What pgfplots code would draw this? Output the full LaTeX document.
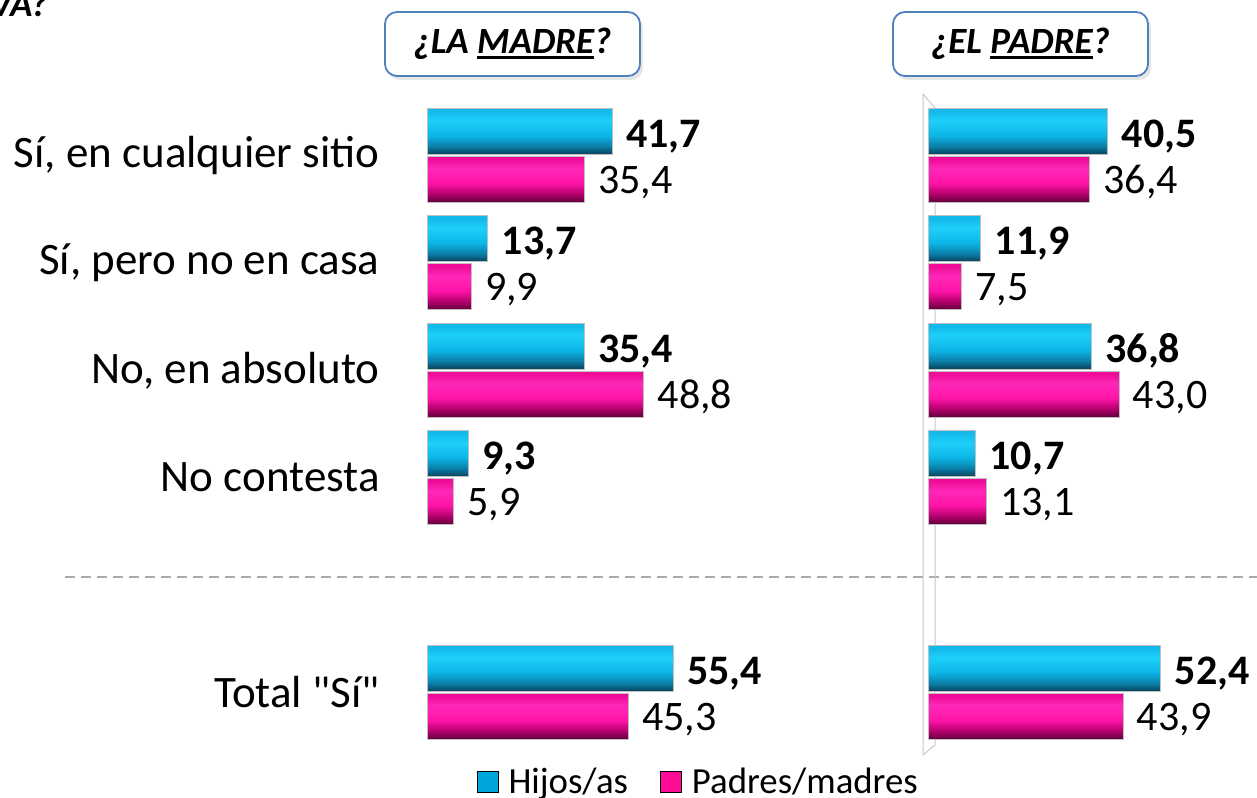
\documentclass[border=0pt]{standalone}
\usepackage{fontspec}
\setmainfont{Carlito}[Ligatures=TeXOff]
\usepackage{pgfplots}
\pgfplotsset{compat=1.18}
\usetikzlibrary{shadows}

\definecolor{hijos}{HTML}{00A6DE}
\definecolor{padres}{HTML}{FF0D96}
\definecolor{boxblue}{HTML}{4F81BD}
% bar shading colours, bottom to top
\definecolor{hB}{HTML}{06405A}
\definecolor{hD}{HTML}{0B7FA8}
\definecolor{hM}{HTML}{0CB6E8}
\definecolor{hL}{HTML}{1ED0FA}
\definecolor{hT}{HTML}{12B9EA}
\definecolor{pB}{HTML}{5E0038}
\definecolor{pD}{HTML}{B0006A}
\definecolor{pM}{HTML}{FF14A8}
\definecolor{pL}{HTML}{FF28B8}
\definecolor{pT}{HTML}{EE0C98}
\pgfdeclareverticalshading{hijosbar}{100bp}{color(0bp)=(hB); color(25bp)=(hB); color(34bp)=(hD); color(46bp)=(hM); color(62bp)=(hL); color(72bp)=(hT); color(100bp)=(hT)}
\pgfdeclareverticalshading{padresbar}{100bp}{color(0bp)=(pB); color(25bp)=(pB); color(34bp)=(pD); color(46bp)=(pM); color(62bp)=(pL); color(72bp)=(pT); color(100bp)=(pT)}

\newcommand{\catfont}{\fontsize{22.5}{27}\selectfont}
\newcommand{\valfont}{\fontsize{21}{25}\selectfont}
% thick underline as in the title boxes
\newcommand{\thickul}[1]{{\setbox0\hbox{#1}\rlap{\rule[-2.6pt]{\wd0}{1.4pt}}#1}}

\pgfplotsset{
  panel/.style={
    scale only axis, width=155.4pt, height=332.94pt,
    xmin=0, xmax=70, ymin=-5.6, ymax=0.6,
    axis line style={draw=none}, tick style={draw=none},
    xtick=\empty, clip=false,
    /pgf/number format/fixed, /pgf/number format/fixed zerofill,
    /pgf/number format/precision=1, /pgf/number format/use comma,
    /pgf/number format/assume math mode=true,
  },
  hbar/.style={xbar, bar width=23pt, bar shift=0pt, shade, shading=hijosbar,
    draw=black!25, line width=0.4pt, forget plot, point meta=x,
    nodes near coords, nodes near coords style={font=\bfseries\valfont, xshift=3.5pt, yshift=-2.5pt, black}},
  pbar/.style={xbar, bar width=23pt, bar shift=0pt, shade, shading=padresbar,
    draw=black!25, line width=0.4pt, forget plot, point meta=x,
    nodes near coords, nodes near coords style={font=\valfont, xshift=3.5pt, yshift=-1.5pt, black}},
}
% one bar per plot, so that every bar gets its own shading
\newcommand{\hb}[2]{\addplot[hbar] coordinates {(#1,#2)};}
\newcommand{\pb}[2]{\addplot[pbar] coordinates {(#1,#2)};}

\begin{document}
\begin{tikzpicture}
\useasboundingbox (0,0) rectangle (628.5pt,398.5pt);

% cut-off question at the top left
\node[anchor=base east, inner sep=0pt, font=\bfseries\itshape\fontsize{18.5}{22}\selectfont] at (24pt,390pt) {VA?};

% panel titles
\node[draw=boxblue, line width=0.9pt, rounded corners=6pt, fill=white,
      drop shadow={opacity=0.2, shadow xshift=1.5pt, shadow yshift=-2pt},
      minimum width=127.5pt, minimum height=32pt,
      font=\bfseries\itshape\fontsize{18.5}{22}\selectfont] at (256.25pt,376.5pt) {¿LA \thickul{MADRE}?};
\node[draw=boxblue, line width=0.9pt, rounded corners=6pt, fill=white,
      drop shadow={opacity=0.2, shadow xshift=1.5pt, shadow yshift=-2pt},
      minimum width=127.5pt, minimum height=32pt,
      font=\bfseries\itshape\fontsize{18.5}{22}\selectfont] at (510.25pt,376.5pt) {¿EL \thickul{PADRE}?};

% separator before the total
\draw[gray!65, line width=1pt, dash pattern=on 5pt off 3pt] (32.5pt,110pt) -- (628.5pt,110pt);

% wall of the right panel
\draw[black!22, line width=0.5pt] (461.5pt,351.5pt) -- (461.5pt,21pt) -- (467.5pt,26pt) -- (467.5pt,344.5pt) -- cycle;

% left panel: la madre
\begin{axis}[panel, at={(213.5pt,20.05pt)}, anchor=south west,
  ytick={0,-1,-2,-3,-5},
  yticklabels={{Sí, en cualquier sitio},{Sí, pero no en casa},{No, en absoluto},{No contesta},{Total "Sí"}},
  yticklabel style={font=\catfont, inner sep=0pt, xshift=-23.5pt},
  legend style={at={(0.876,-0.0376)}, anchor=center, draw=none, fill=none,
    legend columns=2, font=\fontsize{18.4}{22}\selectfont,
    /tikz/every even column/.append style={column sep=14pt}},
  legend image code/.code={\fill[#1] (0pt,-5.25pt) rectangle (10.5pt,5.25pt);},
]
\hb{41.7}{0.2235}   \pb{35.4}{-0.2235}
\hb{13.7}{-0.7765}  \pb{9.9}{-1.2235}
\hb{35.4}{-1.7765}  \pb{48.8}{-2.2235}
\hb{9.3}{-2.7765}   \pb{5.9}{-3.2235}
\hb{55.4}{-4.7765}  \pb{45.3}{-5.2235}
\addlegendimage{fill=hijos}
\addlegendentry{\hspace{3pt}Hijos/as}
\addlegendimage{fill=padres}
\addlegendentry{\hspace{3pt}Padres/madres}
\end{axis}

% right panel: el padre
\begin{axis}[panel, at={(464pt,20.05pt)}, anchor=south west, ytick=\empty]
\hb{40.5}{0.2235}   \pb{36.4}{-0.2235}
\hb{11.9}{-0.7765}  \pb{7.5}{-1.2235}
\hb{36.8}{-1.7765}  \pb{43.0}{-2.2235}
\hb{10.7}{-2.7765}  \pb{13.1}{-3.2235}
\hb{52.4}{-4.7765}  \pb{43.9}{-5.2235}
\end{axis}
\end{tikzpicture}
\end{document}
